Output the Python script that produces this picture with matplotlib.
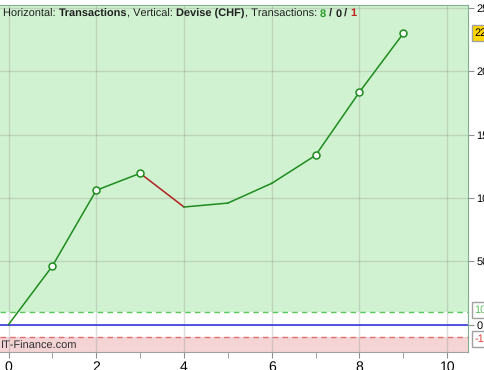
import matplotlib
matplotlib.use("Agg")
from matplotlib import pyplot as plt
from matplotlib.ticker import MultipleLocator

plt.rcParams['font.family'] = ['Liberation Sans', 'DejaVu Sans']
plt.rcParams['text.hinting'] = 'no_hinting'
plt.rcParams['text.hinting_factor'] = 1

# equity curve (CHF) after each transaction
trades = [0, 1, 2, 3, 4, 5, 6, 7, 8, 9]
equity = [0, 462, 1060, 1194, 928, 959, 1115, 1336, 1836, 2299]
# points marked as a new high
new_highs = [1, 2, 3, 7, 8, 9]
gain_band = 100
loss_band = -100
y_ticks = [0, 500, 1000, 1500, 2000, 2500]
x_ticks = [0, 2, 4, 6, 8, 10]
n_win, n_even, n_loss = 8, 0, 1

W, H = 484, 370
fig = plt.figure(figsize=(W / 100, H / 100), dpi=100)
ax = fig.add_axes([0, (H - 352.3) / H, 468.3 / W, (352.3 - 4.7) / H])

ax.set_xlim(-0.194, 10.48)
ax.set_ylim(-219, 2525)

# background bands
ax.axhspan(gain_band, 3000, color='#d0f2d0', zorder=0, lw=0)
ax.axhspan(-3000, loss_band, color='#f4d4d4', zorder=0, lw=0)
ax.axhline(gain_band, color='#5cc85c', ls=(0, (4, 3)), lw=1, zorder=1)
ax.axhline(loss_band, color='#e07070', ls=(0, (4, 3)), lw=1, zorder=1)
ax.axhline(0, color='#2828e0', lw=1.1, zorder=1)

ax.grid(True, color='#909090', alpha=0.3, lw=1, zorder=0.5)
ax.set_axisbelow(True)

# segments: green when rising, red when falling
for i in range(len(trades) - 1):
    col = '#1e8c1e' if equity[i + 1] >= equity[i] else '#b02020'
    ax.plot(trades[i:i + 2], equity[i:i + 2], color=col, lw=1.1, zorder=3)
ax.plot([trades[i] for i in new_highs], [equity[i] for i in new_highs], 'o',
        ms=5, mfc='white', mec='#1e8c1e', mew=1.1, zorder=4)

ax.xaxis.set_minor_locator(MultipleLocator(1))
ax.set_xticks(x_ticks)
ax.set_yticks(y_ticks)
ax.yaxis.tick_right()
ax.tick_params(axis='x', which='both', length=4, color='#909090', labelsize=10, pad=2)
ax.tick_params(axis='y', length=4, color='#909090', labelsize=8.2, pad=2)
ax.spines['left'].set_visible(False)
ax.spines['top'].set_color('#80b090')
ax.spines['right'].set_color('#80b090')
ax.spines['bottom'].set_color('#a0a0a0')

# boxed labels on the right axis
box = dict(boxstyle='square,pad=0.25', ec='#a0a0a0', lw=1)
tr = ax.get_yaxis_transform()
ax.text(1.013, equity[-1], str(equity[-1]), transform=tr, va='center', ha='left',
        fontsize=8.2, color='black', bbox=dict(box, fc='#ffd700'), clip_on=False)
ax.text(1.013, gain_band + 15, str(gain_band), transform=tr, va='center', ha='left',
        fontsize=8.2, color='#60c060', bbox=dict(box, fc='white'), clip_on=False)
ax.text(1.013, loss_band - 15, str(loss_band), transform=tr, va='center', ha='left',
        fontsize=8.2, color='#e04040', bbox=dict(box, fc='white'), clip_on=False)

# header line built from pieces, each one placed after the previous
pieces = [("Horizontal: ", 'normal', '#202020'), ("Transactions", 'bold', '#202020'),
          (", Vertical: ", 'normal', '#202020'), ("Devise (CHF)", 'bold', '#202020'),
          (", Transactions: ", 'normal', '#202020'), (str(n_win), 'bold', '#2a9a2a'),
          (" / ", 'bold', '#202020'), (str(n_even), 'bold', '#202020'),
          (" / ", 'bold', '#202020'), (str(n_loss), 'bold', '#c02020')]
renderer = fig.canvas.get_renderer()
x0 = 3
for txt, wt, col in pieces:
    t = fig.text(x0 / W, 1 - 16.5 / H, txt, fontsize=7.6, fontweight=wt, color=col,
                 family='Liberation Sans', va='baseline', ha='left')
    x0 = t.get_window_extent(renderer).x1

fig.text(0.5 / W, 1 - 349 / H, "IT-Finance.com", fontsize=8.2, color='#303030',
         va='baseline', ha='left')

fig.savefig("out.png", dpi=100)
